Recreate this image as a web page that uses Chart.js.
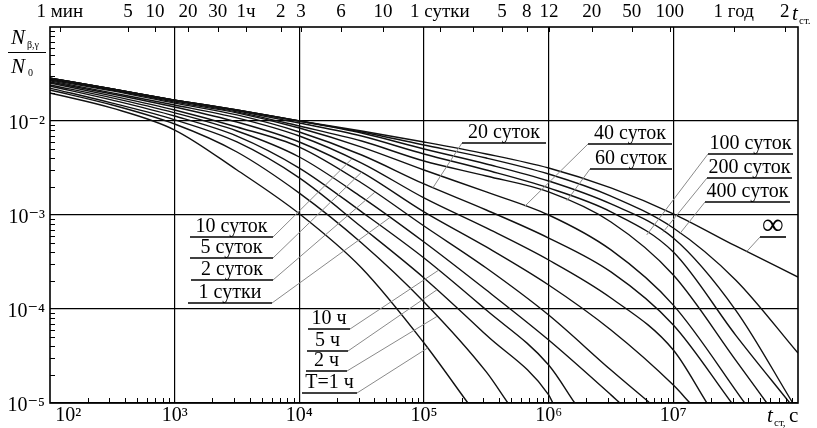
<!DOCTYPE html>
<html>
<head>
<meta charset="utf-8">
<script src="https://cdn.jsdelivr.net/npm/chart.js@4.4.1/dist/chart.umd.min.js"></script>
<style>
  html, body { margin: 0; padding: 0; background: #fff; }
</style>
</head>
<body>
<canvas id="chart" width="817" height="428"></canvas>
<script>
const SERIF = "'Liberation Serif', 'DejaVu Serif', serif";

// cooling time t, s (half-decade steps)
const tGrid = [1e2, 3.16e2, 1e3, 3.16e3, 1e4, 3.16e4, 1e5, 3.16e5, 1e6, 3.16e6, 1e7, 3.16e7, 1e8];

// N/N0, one array per irradiation time T
const yInf  = [2.86e-2, 2.19e-2, 1.67e-2, 1.31e-2, 1.00e-2, 7.83e-3, 5.98e-3, 4.46e-3, 3.16e-3, 1.94e-3, 1.03e-3, 4.68e-4, 2.19e-4];
const y400d = [2.86e-2, 2.19e-2, 1.67e-2, 1.31e-2, 1.00e-2, 7.64e-3, 5.56e-3, 4.04e-3, 2.73e-3, 1.59e-3, 7.28e-4, 2.04e-4, 3.40e-5];
const y200d = [2.86e-2, 2.19e-2, 1.67e-2, 1.31e-2, 1.00e-2, 7.45e-3, 5.04e-3, 3.49e-3, 2.30e-3, 1.31e-3, 5.69e-4, 9.75e-5];
const y100d = [2.86e-2, 2.19e-2, 1.67e-2, 1.28e-2, 9.53e-3, 6.92e-3, 4.46e-3, 3.01e-3, 1.94e-3, 1.08e-3, 4.04e-4, 5.28e-5];
const y60d  = [2.80e-2, 2.14e-2, 1.63e-2, 1.25e-2, 8.85e-3, 6.12e-3, 3.75e-3, 2.60e-3, 1.76e-3, 8.43e-4, 2.30e-4, 2.86e-5];
const y40d  = [2.80e-2, 2.14e-2, 1.59e-2, 1.22e-2, 8.43e-3, 5.28e-3, 3.01e-3, 1.76e-3, 1.00e-3, 4.25e-4, 1.10e-4];
const y20d  = [2.73e-2, 2.09e-2, 1.55e-2, 1.16e-2, 7.64e-3, 4.35e-3, 2.14e-3, 1.13e-3, 5.69e-4, 2.48e-4, 6.76e-5];
const y10d  = [2.67e-2, 1.99e-2, 1.48e-2, 1.08e-2, 6.92e-3, 3.57e-3, 1.52e-3, 7.28e-4, 3.32e-4, 1.31e-4, 3.66e-5];
const y5d   = [2.60e-2, 1.94e-2, 1.41e-2, 9.75e-3, 5.98e-3, 2.86e-3, 1.08e-3, 4.57e-4, 1.80e-4, 5.98e-5, 1.55e-5];
const y2d   = [2.54e-2, 1.85e-2, 1.31e-2, 8.63e-3, 5.28e-3, 2.19e-3, 7.64e-4, 2.73e-4, 8.63e-5, 2.24e-5];
const y1d   = [2.42e-2, 1.76e-2, 1.22e-2, 7.83e-3, 4.14e-3, 1.55e-3, 5.16e-4, 1.59e-4, 4.68e-5, 1.22e-5];
const y10h  = [2.36e-2, 1.67e-2, 1.13e-2, 6.92e-3, 3.16e-3, 1.08e-3, 3.49e-4, 9.75e-5, 2.54e-5];
const y5h   = [2.24e-2, 1.55e-2, 1.03e-2, 5.98e-3, 2.48e-3, 7.45e-4, 2.14e-4, 5.28e-5, 1.22e-5];
const y2h   = [2.14e-2, 1.48e-2, 9.29e-3, 4.68e-3, 1.71e-3, 5.04e-4, 1.19e-4, 2.14e-5];
const y1h   = [1.99e-2, 1.37e-2, 8.02e-3, 3.01e-3, 1.03e-3, 2.73e-4, 4.35e-5];

// time (s) where a curve runs out through the bottom of the plot (N/N0 = 1e-5)
const endInf = null, end400d = null;
const end200d = 9.08e7, end100d = 8.6e7, end60d = 5.62e7, end40d = 3.74e7, end20d = 2.94e7;
const end10d = 1.86e7, end5d = 1.36e7, end2d = 6.48e6, end1d = 3.72e6;
const end10h = 1.62e6, end5h = 1.08e6, end2h = 4.71e5, end1h = 2.25e5;

// axis ticks
const xTickVals = [140, 1e3, 1e4, 1e5, 1e6, 1e7];
const xTickLabels = ['10²', '10³', '10⁴', '10⁵', '10⁶', '10⁷'];
const yTickVals = [1e-5, 1e-4, 1e-3, 1e-2];
const yTickLabels = ['10⁻⁵', '10⁻⁴', '10⁻³', '10⁻²'];
const topTickVals = [120, 422, 695, 1280, 2220, 3730, 7110, 10300, 21600, 46800, 134000, 247000, 421700, 668000, 1.004e6, 2.22e6, 4.64e6, 9.37e6, 3.05e7, 7.83e7];
const topTickLabels = ['1 мин', '5', '10', '20', '30', '1ч', '2', '3', '6', '10', '1 сутки', '', '5', '8', '12', '20', '50', '100', '1 год', '2'];
const minorSteps = [2, 3, 4, 5, 6, 7, 8, 9];

const series = [
  { name: '∞', vals: yInf, end: endInf },
  { name: '400 суток', vals: y400d, end: end400d },
  { name: '200 суток', vals: y200d, end: end200d },
  { name: '100 суток', vals: y100d, end: end100d },
  { name: '60 суток', vals: y60d, end: end60d },
  { name: '40 суток', vals: y40d, end: end40d },
  { name: '20 суток', vals: y20d, end: end20d },
  { name: '10 суток', vals: y10d, end: end10d },
  { name: '5 суток', vals: y5d, end: end5d },
  { name: '2 суток', vals: y2d, end: end2d },
  { name: '1 сутки', vals: y1d, end: end1d },
  { name: '10 ч', vals: y10h, end: end10h },
  { name: '5 ч', vals: y5h, end: end5h },
  { name: '2 ч', vals: y2h, end: end2h },
  { name: 'T=1 ч', vals: y1h, end: end1h },
];

// curve labels: underline span and height in px, leader goes to the curve at time t
const tags = [
  { name: '10 суток', x0: 190, x1: 273, y: 237, side: 'right', t: 2.64e4 },
  { name: '5 суток', x0: 190, x1: 273, y: 258, side: 'right', t: 3.16e4 },
  { name: '2 суток', x0: 191, x1: 273, y: 280, side: 'right', t: 4.04e4 },
  { name: '1 сутки', x0: 188, x1: 272, y: 303, side: 'right', t: 5.33e4 },
  { name: '10 ч', x0: 308, x1: 350, y: 329, side: 'right', t: 1.31e5 },
  { name: '5 ч', x0: 307, x1: 348, y: 351, side: 'right', t: 1.27e5 },
  { name: '2 ч', x0: 306, x1: 347, y: 371, side: 'right', t: 1.27e5 },
  { name: 'T=1 ч', x0: 302, x1: 357, y: 393, side: 'right', t: 1.07e5 },
  { name: '20 суток', x0: 462, x1: 546, y: 143, side: 'left', t: 1.18e5 },
  { name: '40 суток', x0: 588, x1: 672, y: 144, side: 'left', t: 6.44e5 },
  { name: '60 суток', x0: 590, x1: 672, y: 169, side: 'left', t: 1.40e6 },
  { name: '100 суток', x0: 708, x1: 793, y: 154, side: 'left', t: 6.12e6 },
  { name: '200 суток', x0: 707, x1: 792, y: 178, side: 'left', t: 8.24e6 },
  { name: '400 суток', x0: 705, x1: 790, y: 202, side: 'left', t: 1.13e7 },
  { name: '∞', x0: 760, x1: 786, y: 237, side: 'left', t: 3.88e7, big: true },
];

function toPoints(vals, end) {
  const pts = vals.map((v, i) => ({ x: tGrid[i], y: v }));
  if (end) pts.push({ x: end, y: 1e-5 });
  return pts;
}

// value of a curve at time t, straight in log-log between read points
function valueAt(pts, t) {
  for (let i = 0; i < pts.length - 1; i++) {
    const a = pts[i], b = pts[i + 1];
    if (t >= a.x && t <= b.x) {
      const f = (Math.log10(t) - Math.log10(a.x)) / (Math.log10(b.x) - Math.log10(a.x));
      return 10 ** (Math.log10(a.y) + f * (Math.log10(b.y) - Math.log10(a.y)));
    }
  }
  return pts[pts.length - 1].y;
}

function isDecade(v) {
  const l = Math.log10(v);
  return Math.abs(l - Math.round(l)) < 1e-6;
}

const decor = {
  id: 'decor',
  afterDatasetsDraw(chart) {
    const { ctx, chartArea: a, scales } = chart;
    const sx = scales.x, sy = scales.y, st = scales.xTop;
    ctx.save();

    // minor ticks, pointing inwards
    ctx.strokeStyle = '#000';
    ctx.lineWidth = 1;
    ctx.beginPath();
    for (let e = 2; e < 8; e++) {
      for (const m of minorSteps) {
        const px = Math.round(sx.getPixelForValue(m * 10 ** e)) + 0.5;
        ctx.moveTo(px, a.bottom);
        ctx.lineTo(px, a.bottom - 5);
      }
    }
    for (let e = -5; e < -1; e++) {
      for (const m of minorSteps) {
        const py = Math.round(sy.getPixelForValue(m * 10 ** e)) + 0.5;
        ctx.moveTo(a.left, py);
        ctx.lineTo(a.left + 5, py);
      }
    }
    for (const v of topTickVals) {
      const px = Math.round(st.getPixelForValue(v)) + 0.5;
      ctx.moveTo(px, a.top);
      ctx.lineTo(px, a.top + 5);
    }
    ctx.stroke();

    // frame
    ctx.lineWidth = 1.6;
    ctx.strokeRect(a.left, a.top, a.right - a.left, a.bottom - a.top);

    // curve labels with leader lines
    for (const tg of tags) {
      const idx = series.findIndex(s => s.name === tg.name);
      const pts = chart.data.datasets[idx].data;
      const tx = sx.getPixelForValue(tg.t);
      const ty = sy.getPixelForValue(valueAt(pts, tg.t));
      const sxp = tg.side === 'right' ? tg.x1 : tg.x0;
      ctx.strokeStyle = '#8a8a8a';
      ctx.lineWidth = 1;
      ctx.beginPath();
      ctx.moveTo(sxp, tg.y);
      ctx.lineTo(tx, ty);
      ctx.stroke();
      ctx.strokeStyle = '#000';
      ctx.lineWidth = 1.6;
      ctx.beginPath();
      ctx.moveTo(tg.x0, tg.y);
      ctx.lineTo(tg.x1, tg.y);
      ctx.stroke();
      ctx.fillStyle = '#000';
      ctx.textAlign = 'center';
      ctx.textBaseline = 'alphabetic';
      ctx.font = tg.big ? `bold 30px ${SERIF}` : `20px ${SERIF}`;
      ctx.fillText(tg.name, (tg.x0 + tg.x1) / 2, tg.big ? tg.y - 3 : tg.y - 5);
    }

    // axis titles
    ctx.fillStyle = '#000';
    ctx.textAlign = 'left';
    ctx.font = `italic 21px ${SERIF}`;
    ctx.fillText('N', 11, 44);
    ctx.fillText('N', 11, 73);
    ctx.font = `10px ${SERIF}`;
    ctx.fillText('β,γ', 27, 48);
    ctx.fillText('0', 28, 76);
    ctx.lineWidth = 1.2;
    ctx.beginPath();
    ctx.moveTo(8, 52.5);
    ctx.lineTo(46, 52.5);
    ctx.stroke();

    ctx.font = `italic 21px ${SERIF}`;
    ctx.fillText('t', 792, 20);
    ctx.fillText('t', 767, 422);
    ctx.font = `11px ${SERIF}`;
    ctx.fillText('ст.', 799, 24);
    ctx.fillText('ст,', 774, 426);
    ctx.font = `21px ${SERIF}`;
    ctx.fillText('с', 789, 422);
    ctx.restore();
  }
};

const gridColor = ctx => (ctx.tick && isDecade(ctx.tick.value) ? '#000' : 'rgba(0,0,0,0)');

new Chart(document.getElementById('chart'), {
  type: 'line',
  data: {
    datasets: series.map(s => ({
      label: s.name,
      data: toPoints(s.vals, s.end),
      borderColor: '#111',
      borderWidth: 1.4,
      pointRadius: 0,
      fill: false,
      cubicInterpolationMode: 'monotone',
      xAxisID: 'x',
      yAxisID: 'y',
    })),
  },
  options: {
    responsive: false,
    animation: false,
    layout: { padding: { left: 0, right: 19, top: 0, bottom: 0 } },
    plugins: { legend: { display: false }, tooltip: { enabled: false } },
    scales: {
      x: {
        type: 'logarithmic',
        position: 'bottom',
        min: 1e2,
        max: 1e8,
        afterBuildTicks: ax => { ax.ticks = xTickVals.map(v => ({ value: v })); },
        afterFit: ax => { ax.height = 25; },
        ticks: {
          autoSkip: false, maxRotation: 0, minRotation: 0, padding: 1,
          color: '#000', font: { family: SERIF, size: 20 },
          callback: (v, i) => xTickLabels[i],
        },
        grid: { drawTicks: false, color: gridColor, lineWidth: 1.2 },
        border: { display: false },
      },
      xTop: {
        type: 'logarithmic',
        position: 'top',
        min: 1e2,
        max: 1e8,
        afterBuildTicks: ax => { ax.ticks = topTickVals.map(v => ({ value: v })); },
        afterFit: ax => { ax.height = 27; },
        ticks: {
          autoSkip: false, maxRotation: 0, minRotation: 0, padding: 4,
          color: '#000', font: { family: SERIF, size: 19 },
          callback: (v, i) => topTickLabels[i],
        },
        grid: { display: false, drawTicks: false },
        border: { display: false },
      },
      y: {
        type: 'logarithmic',
        position: 'left',
        min: 1e-5,
        max: 1e-1,
        afterBuildTicks: ax => { ax.ticks = yTickVals.map(v => ({ value: v })); },
        afterFit: ax => { ax.width = 50; },
        ticks: {
          autoSkip: false, padding: 5, labelOffset: 3,
          color: '#000', font: { family: SERIF, size: 20 },
          callback: (v, i) => yTickLabels[i],
        },
        grid: { drawTicks: false, color: gridColor, lineWidth: 1.2 },
        border: { display: false },
      },
    },
  },
  plugins: [decor],
});
</script>
</body>
</html>
